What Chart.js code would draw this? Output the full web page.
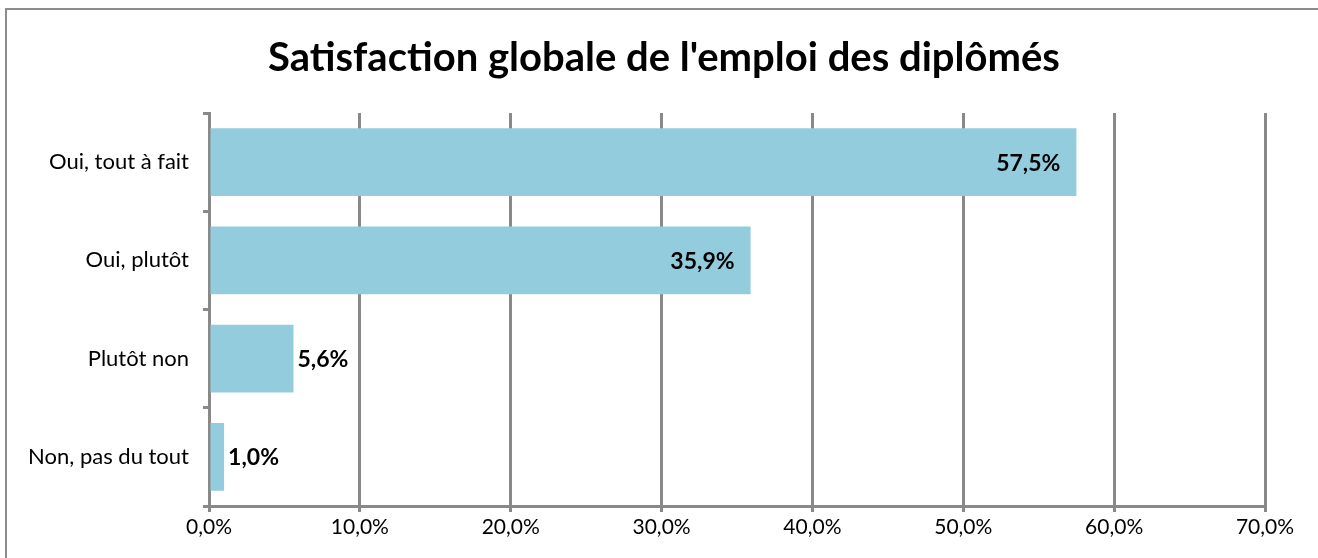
<!DOCTYPE html>
<html>
<head>
<meta charset="utf-8">
<script src="https://cdn.jsdelivr.net/npm/chart.js@4.4.1/dist/chart.umd.min.js"></script>
<style>
  html, body { margin: 0; padding: 0; background: #fff; }
  canvas { display: block; }
</style>
</head>
<body>
<canvas id="chart" width="1318" height="558"></canvas>
<script>
// données
const titre = "Satisfaction globale de l'emploi des diplômés";
const categories = ['Oui, tout à fait', 'Oui, plutôt', 'Plutôt non', 'Non, pas du tout'];
const values = [57.5, 35.9, 5.6, 1.0];
const xTicks = [0, 10, 20, 30, 40, 50, 60, 70];

const gris = '#898989';
const police = 'Lato, "Noto Sans", sans-serif';

function pct(v) {
    return v.toFixed(1).replace('.', ',') + '%';
}

// cadre + titre (centré sur toute la largeur)
const cadre = {
    id: 'cadre',
    beforeDraw(chart) {
        const ctx = chart.ctx;
        ctx.save();
        ctx.strokeStyle = '#8c8c8c';
        ctx.lineWidth = 2;
        ctx.strokeRect(6, 9, 1400, 600);
        ctx.font = 'bold 40px ' + police;
        ctx.fillStyle = '#000';
        ctx.textAlign = 'center';
        ctx.textBaseline = 'middle';
        ctx.fillText(titre, 664, 58);
        ctx.restore();
    }
};

// étiquettes des barres
const etiquettes = {
    id: 'etiquettes',
    afterDatasetsDraw(chart) {
        const ctx = chart.ctx;
        const meta = chart.getDatasetMeta(0);
        ctx.save();
        ctx.font = 'bold 23px ' + police;
        ctx.fillStyle = '#000';
        ctx.textBaseline = 'middle';
        meta.data.forEach(function(bar, i) {
            const v = values[i];
            if (v > 20) {
                ctx.textAlign = 'right';
                ctx.fillText(pct(v), bar.x - 16, bar.y + 1);
            } else {
                ctx.textAlign = 'left';
                ctx.fillText(pct(v), bar.x + 4, bar.y + 1);
            }
        });
        ctx.restore();
    }
};

const ctx = document.getElementById('chart').getContext('2d');
new Chart(ctx, {
    type: 'bar',
    data: {
        labels: categories,
        datasets: [{
            data: values,
            backgroundColor: '#93cddd',
            borderWidth: 0,
            categoryPercentage: 1,
            barPercentage: 0.69
        }]
    },
    options: {
        indexAxis: 'y',
        responsive: false,
        animation: false,
        devicePixelRatio: 1,
        layout: { padding: { left: 10, right: 53, top: 113, bottom: 0 } },
        scales: {
            x: {
                min: 0,
                max: 70,
                afterBuildTicks(scale) {
                    scale.ticks = xTicks.map(v => ({ value: v }));
                },
                afterFit(scale) { scale.height = 52; },
                ticks: {
                    callback: v => pct(v),
                    color: '#000',
                    font: { family: police, size: 21 },
                    padding: 3,
                    maxRotation: 0
                },
                grid: { color: gris, lineWidth: 3, tickLength: 6, drawTicks: true },
                border: { display: true, color: gris, width: 3 }
            },
            y: {
                afterFit(scale) { scale.width = 199; },
                ticks: {
                    color: '#000',
                    font: { family: police, size: 22 },
                    padding: 14
                },
                grid: { drawOnChartArea: false, color: gris, lineWidth: 3, tickLength: 6, offset: true },
                border: { display: true, color: gris, width: 3 }
            }
        },
        plugins: {
            legend: { display: false },
            tooltip: { enabled: false },
            title: { display: false }
        }
    },
    plugins: [cadre, etiquettes]
});
</script>
</body>
</html>
